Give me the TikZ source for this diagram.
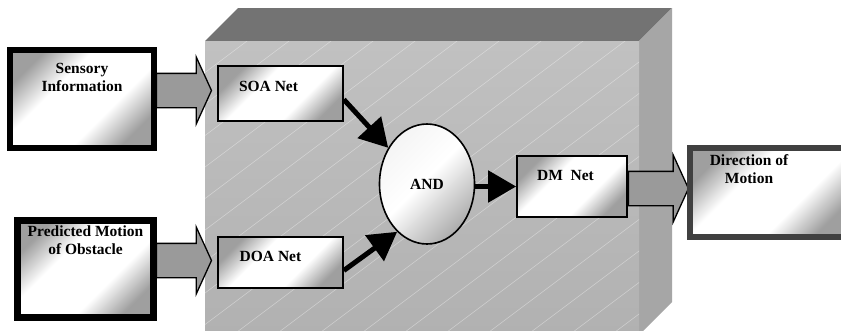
\documentclass[tikz,border=0pt]{standalone}
\usepackage{fontspec}
\setmainfont{Liberation Serif}
\usetikzlibrary{shapes.geometric, shapes.arrows, arrows.meta, positioning, calc}
\definecolor{wallTop}{HTML}{737373}
\definecolor{wallSide}{HTML}{A6A6A6}
\definecolor{wallFront}{HTML}{C1C1C1}
\definecolor{wallLow}{HTML}{B1B1B1}
\definecolor{pipeGray}{HTML}{9A9A9A}
\definecolor{rimGray}{HTML}{404040}
\pgfdeclareverticalshading{boxshade}{100bp}{color(0bp)=(gray!75); color(25bp)=(gray!75);
  color(39bp)=(white); color(61bp)=(white); color(75bp)=(gray!75); color(100bp)=(gray!75)}
\pgfdeclareverticalshading{ovalshade}{100bp}{color(0bp)=(gray!65); color(25bp)=(gray!65);
  color(52bp)=(white); color(75bp)=(white!92!gray); color(100bp)=(white!92!gray)}

\begin{document}
\begin{tikzpicture}[x=1pt, y=-1pt,
  every node/.style={font=\bfseries\fontsize{15.5}{18}\selectfont},
  tag/.style={inner sep=0pt, align=center},
  inbox/.style={draw, line width=6.5pt, shading=boxshade, shading angle=45, inner sep=0pt},
  outbox/.style={draw=rimGray, line width=6pt, shading=boxshade, shading angle=45, inner sep=0pt},
  netbox/.style={draw, line width=1.6pt, shading=boxshade, shading angle=45, inner sep=0pt},
  gate/.style={ellipse, draw, line width=1.6pt, shading=ovalshade, shading angle=45,
    minimum width=95pt, minimum height=120pt, inner sep=0pt},
  bigarrow/.style={single arrow, draw, line width=1.3pt, fill=pipeGray, inner xsep=0pt,
    inner ysep=16.5pt, single arrow head extend=16.5pt, single arrow tip angle=131,
    anchor=tip},
  flow/.style={line width=5pt, -{Triangle[length=28pt, width=31pt]}},
  hatch/.style={white, line width=0.6pt, opacity=0.35}]
  \useasboundingbox (0,0) rectangle (841,330);
  \fill[white] (0,0) rectangle (841,330);
  \clip (0,0) rectangle (841,330);

  \fill[wallTop] (205,41) -- (238,8) -- (672,8) -- (639,41) -- cycle;
  \fill[wallSide] (639,41) -- (672,8) -- (672,302) -- (639,335) -- cycle;
  \shade[top color=wallFront, bottom color=wallLow] (205,41) rectangle (639,335);
  \begin{scope}
    \clip (205,41) rectangle (639,335);
    \foreach \x in {-187,-145,...,639}
      \draw[hatch] (\x,335) -- ++(420,-315);
  \end{scope}

  \node[inbox, minimum width=144pt, minimum height=98pt] (sens) at (82,99) {};
  \node[tag, below=16.5pt of sens.north] {Sensory\\Information};
  \node[inbox, line width=7pt, minimum width=136pt, minimum height=97pt] (pred) at (85.5,269) {};
  \node[tag, below=9pt of pred.north] {Predicted Motion\\of Obstacle};

  \node[netbox, minimum width=125pt, minimum height=55pt] (soa) at (280.5,93.5) {};
  \node[tag, anchor=base] at ([xshift=-12pt, yshift=-26pt]soa.north) {SOA Net};
  \node[netbox, minimum width=125pt, minimum height=51pt] (doa) at (280.5,262.5) {};
  \node[tag, anchor=base] at ([xshift=-10pt, yshift=-25pt]doa.north) {DOA Net};
  \node[gate] (and) at (427,184) {AND};
  \node[netbox, minimum width=110pt, minimum height=61pt] (dm) at (572,186.5) {};
  \node[tag, anchor=base] at ([xshift=-6.5pt, yshift=-25pt]dm.north) {DM\ \ Net};

  \node[bigarrow, minimum height=55pt] (sensarr) at ([xshift=-5pt, yshift=3pt]soa.west) {};
  \node[bigarrow, minimum height=55pt] (predarr) at ([xshift=-5pt, yshift=2pt]doa.west) {};
  \node[bigarrow, minimum height=60pt, anchor=tail] (dmarr) at ([yshift=-2pt]dm.east) {};

  \node[outbox, minimum width=160pt, minimum height=89pt] (out) at (770,192.5) {};
  \node[tag, anchor=north] at ([xshift=62pt, yshift=-9pt]out.north west) {Direction of\\Motion};

  \draw[flow] ([yshift=-6pt]soa.east) -- (and.137);
  \draw[flow] ([yshift=-8pt]doa.east) -- (and.238);
  \draw[flow] (and.east |- dm.west) -- (dm.west);
\end{tikzpicture}
\end{document}
